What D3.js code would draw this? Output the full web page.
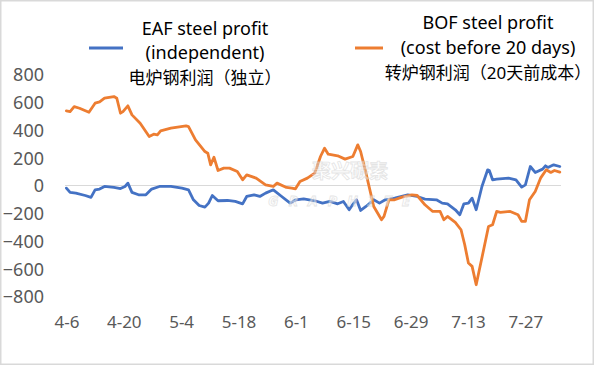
<!DOCTYPE html>
<html><head><meta charset="utf-8">
<script src="https://cdn.jsdelivr.net/npm/d3@7"></script>
<style>
html,body{margin:0;padding:0;background:#fff;}
svg{display:block;}
</style></head>
<body>
<script>
// ---- data (day offset from 4-6, value) ----
const xTickDays = [0, 14, 28, 42, 56, 70, 84, 98, 112];
const xTickLabels = ["4-6","4-20","5-4","5-18","6-1","6-15","6-29","7-13","7-27"];
const yTicks = [-800,-600,-400,-200,0,200,400,600,800];

const eafDays = [0,0.9,2.3,4.6,6,7,8.1,9.3,11.6,13.2,14.3,15,16,17.6,19.4,20.8,22.7,25.5,28.2,29.8,31,32.4,33.8,34.7,35.6,37,39.3,41.2,43,44,45.8,47.2,48.6,50.5,52.3,54.6,56,57.9,60.6,62.5,64.3,66.2,67.6,69,70,70.8,71.8,73.1,75,76.4,77.8,80.1,83.3,85.6,87.5,90.3,91.7,93,94.9,96,97,98.1,99,100,101.4,102.8,103.2,104,105,107.9,109.7,111.1,112,113.2,114.4,116.2,116.9,117.5,118.9,120.4];
const eafValues = [-19,-50,-55,-72,-86,-31,-26,-7,-14,-22,-7,17,-50,-67,-67,-26,-7,-7,-19,-31,-103,-144,-156,-127,-72,-110,-108,-115,-132,-79,-67,-79,-55,-31,-74,-127,-103,-96,-110,-127,-115,-132,-115,-175,-132,-103,-180,-151,-103,-127,-103,-91,-67,-79,-98,-103,-127,-132,-175,-211,-132,-127,-91,-175,-7,113,108,41,46,53,41,-12,5,137,94,118,142,130,149,137];

const bofDays = [0,0.9,1.9,3.2,5.5,7,8.1,9.3,11.6,12.3,13.2,13.8,15,16,18,20.2,21.3,22.2,23,25.5,29.2,29.8,31.5,33.8,34.5,35.2,36,37,38.4,39.8,41.7,43,44,46.3,48.6,50.5,51.4,53.7,55,55.9,57,58.8,60.6,62,63,63.9,66.2,68,69.9,71.1,71.8,73.1,75,76.9,77.5,78.7,80.1,81.9,84.3,85.6,87.5,89.4,91.2,92.1,93,94.9,96.3,97.2,98.1,99,100,100.6,101.9,103,104,105,105.9,108.3,110.2,111.1,112,113,114.4,115.7,117.1,118.2,119.1,120.4];
const bofValues = [538,533,569,557,528,593,602,629,641,629,521,533,574,509,449,353,370,365,394,413,430,425,329,245,233,149,204,108,125,125,101,41,77,53,5,-7,17,-14,-19,-24,29,53,89,209,269,226,214,190,209,293,245,89,-151,-247,-223,-103,-103,-84,-67,-72,-139,-187,-187,-247,-223,-266,-319,-427,-559,-583,-715,-631,-451,-295,-283,-187,-194,-187,-211,-259,-259,-103,-43,53,113,94,108,96];

const W = 594, H = 365;
const svg = d3.select("body").append("svg").attr("width", W).attr("height", H);

svg.append("rect").attr("x",0.75).attr("y",0.75).attr("width",W-1.5).attr("height",H-1.5)
  .attr("fill","#fff").attr("stroke","#d9d9d9").attr("stroke-width",1.5);

const x = d3.scaleLinear().domain([0,120.4]).range([66.4,559.8]);
const y = d3.scaleLinear().domain([-800,800]).range([296.5,74.5]);

const font = "'Noto Sans','Open Sans','Noto Sans CJK SC',sans-serif";

// y axis labels
const yAxis = d3.axisLeft(y).tickValues(yTicks).tickSize(0).tickPadding(0);
const gy = svg.append("g").attr("transform","translate(44,0)").call(yAxis);
gy.select(".domain").remove();
gy.selectAll("text").attr("font-family",font).attr("font-size",18).attr("fill","#595959").attr("dy","0.35em");

// x axis labels
const xAxis = d3.axisBottom(x).tickValues(xTickDays).tickFormat((d,i)=>xTickLabels[i]).tickSize(0).tickPadding(0);
const gx = svg.append("g").attr("transform","translate(0,316)").call(xAxis);
gx.select(".domain").remove();
gx.selectAll("text").attr("font-family",font).attr("font-size",17).attr("fill","#595959");

// zero line
svg.append("line").attr("x1",65).attr("x2",561).attr("y1",y(0)).attr("y2",y(0))
  .attr("stroke","#d9d9d9").attr("stroke-width",1);

const line = d3.line().x(d=>x(d[0])).y(d=>y(d[1])).curve(d3.curveLinear);
const eaf = eafDays.map((d,i)=>[d,eafValues[i]]);
const bof = bofDays.map((d,i)=>[d,bofValues[i]]);

svg.append("path").datum(eaf).attr("d",line).attr("fill","none")
  .attr("stroke","#4472C4").attr("stroke-width",2.8).attr("stroke-linejoin","round").attr("stroke-linecap","round");
svg.append("path").datum(bof).attr("d",line).attr("fill","none")
  .attr("stroke","#ED7D31").attr("stroke-width",2.8).attr("stroke-linejoin","round").attr("stroke-linecap","round");

// watermark
const wm = svg.append("g").attr("opacity",0.55);
wm.append("text").attr("x",312).attr("y",178).attr("font-family","'Noto Sans CJK SC',sans-serif")
  .attr("font-weight","bold").attr("font-size",19).attr("fill","#fff").attr("stroke","#cfcfcf").attr("stroke-width",0.8)
  .text("聚兴碳素");
wm.append("text").attr("x",268).attr("y",206).attr("font-family",font).attr("font-style","italic")
  .attr("font-weight","bold").attr("font-size",15).attr("fill","#fff").attr("stroke","#cfcfcf").attr("stroke-width",0.8)
  .attr("textLength",142).text("GRAPHITE");

// legend
svg.append("line").attr("x1",89).attr("x2",123).attr("y1",48).attr("y2",48)
  .attr("stroke","#4472C4").attr("stroke-width",3);
svg.append("line").attr("x1",355).attr("x2",383).attr("y1",48).attr("y2",48)
  .attr("stroke","#ED7D31").attr("stroke-width",3);

const legFont = "'Noto Sans','Noto Sans CJK SC',sans-serif";
const l1 = [["EAF steel profit",29,18],["(independent)",53,18],["电炉钢利润（独立）",78,17]];
l1.forEach(([t,yy,fs])=>svg.append("text").attr("x",205).attr("y",yy).attr("dy","0.35em")
  .attr("text-anchor","middle").attr("font-family",legFont).attr("font-size",fs).attr("fill","#000").text(t));
const l2 = [["BOF steel profit",23,18],["(cost before 20 days)",48,18],["转炉钢利润（20天前成本）",73,17]];
l2.forEach(([t,yy,fs])=>svg.append("text").attr("x",488).attr("y",yy).attr("dy","0.35em")
  .attr("text-anchor","middle").attr("font-family",legFont).attr("font-size",fs).attr("fill","#000").text(t));
</script>
</body></html>
